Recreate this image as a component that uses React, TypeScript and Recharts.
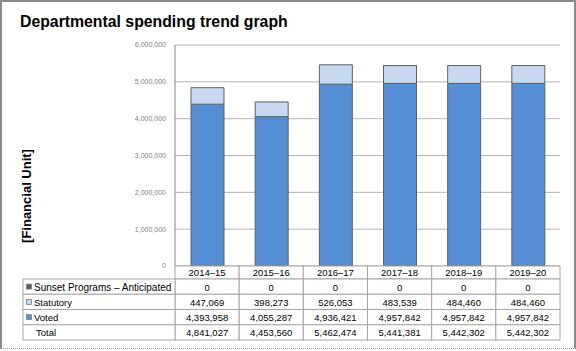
import React from 'react';
import { Bar, BarChart, CartesianGrid, XAxis, YAxis } from 'recharts';

const YEARS = ['2014–15', '2015–16', '2016–17', '2017–18', '2018–19', '2019–20'];
const SUNSET = [0, 0, 0, 0, 0, 0];
const STATUTORY = [447069, 398273, 526053, 483539, 484460, 484460];
const VOTED = [4393958, 4055287, 4936421, 4957842, 4957842, 4957842];
const Y_TICKS = [0, 1000000, 2000000, 3000000, 4000000, 5000000, 6000000];

const data = YEARS.map((year, i) => ({
  year,
  voted: VOTED[i],
  statutory: STATUTORY[i],
  sunset: SUNSET[i],
  total: VOTED[i] + STATUTORY[i] + SUNSET[i],
}));

const ROWS = [
  { key: 'sunset', label: 'Sunset Programs – Anticipated', color: '#595959' },
  { key: 'statutory', label: 'Statutory', color: '#c6d9f1' },
  { key: 'voted', label: 'Voted', color: '#558ed5' },
  { key: 'total', label: 'Total', color: null },
];

const FONT = '"Liberation Sans", Arial, sans-serif';
const PLOT_LEFT = 175;
const PLOT_WIDTH = 385;
const COL_W = PLOT_WIDTH / YEARS.length;
const HEADER_H = 13;
const ROW_H = 15.25;
const LABEL_LEFT = 23;
const BORDER = '#a6a6a6';

const fmt = (v: number) => v.toLocaleString('en-US');

// each x tick draws its own table column, the first one also the row labels
const TableColumn = (props: any) => {
  const { x, y, payload, index } = props;
  const left = x - COL_W / 2;
  const row = data[index];
  return (
    <g fontFamily={FONT} fontSize={9.5} fill="#000">
      <rect x={left} y={y} width={COL_W} height={HEADER_H} fill="#fff" stroke={BORDER} />
      <text x={x} y={y + HEADER_H / 2} textAnchor="middle" dominantBaseline="central" fill="#000">
        {payload.value}
      </text>
      {ROWS.map((r, ri) => {
        const top = y + HEADER_H + ri * ROW_H;
        return (
          <g key={r.key}>
            <rect x={left} y={top} width={COL_W} height={ROW_H} fill="#fff" stroke={BORDER} />
            <text x={x} y={top + ROW_H / 2 + 0.5} textAnchor="middle" dominantBaseline="central" fill="#000">
              {fmt((row as any)[r.key])}
            </text>
          </g>
        );
      })}
      {index === 0 &&
        ROWS.map((r, ri) => {
          const top = y + HEADER_H + ri * ROW_H;
          return (
            <g key={'l' + r.key}>
              <rect x={LABEL_LEFT} y={top} width={PLOT_LEFT - LABEL_LEFT} height={ROW_H} fill="#fff" stroke={BORDER} />
              {r.color && (
                <rect x={26.5} y={top + ROW_H / 2 - 2.5} width={5} height={5} fill={r.color} stroke="#7f7f7f" strokeWidth={0.8} />
              )}
              <text
                x={r.color ? 34 : 36}
                y={top + ROW_H / 2 + 0.5}
                dominantBaseline="central"
                fontSize={r.key === 'sunset' ? 10 : 9.5}
                fill="#000"
              >
                {r.label}
              </text>
            </g>
          );
        })}
    </g>
  );
};

const YLabel = () => (
  <text
    x={31}
    y={196}
    transform="rotate(-90 31 196)"
    textAnchor="middle"
    fontFamily={FONT}
    fontSize={13}
    fontWeight="bold"
    fill="#000"
  >
    [Financial Unit]
  </text>
);

export default function App() {
  return (
    <div style={{ position: 'relative', width: 576, height: 351, background: '#fff' }}>
      <style>{'body{margin:0}'}</style>
      <div
        style={{
          position: 'absolute',
          left: 0,
          top: 0,
          width: 572,
          height: 346,
          borderTop: '2px solid #8a8a8a',
          borderLeft: '2px solid #8a8a8a',
          borderRight: '2px solid #8a8a8a',
          borderBottom: '1px dotted #999',
        }}
      />
      <div
        style={{
          position: 'absolute',
          left: 20,
          top: 13,
          fontFamily: FONT,
          fontSize: 15.8,
          fontWeight: 'bold',
          color: '#000',
          whiteSpace: 'nowrap',
        }}
      >
        Departmental spending trend graph
      </div>
      <BarChart
        width={576}
        height={351}
        data={data}
        margin={{ top: 45, right: 16, left: 0, bottom: 0 }}
        barSize={33}
        style={{ position: 'absolute', left: 0, top: 0 }}
      >
        <CartesianGrid vertical={false} stroke="#b3b3b3" />
        <YAxis
          width={PLOT_LEFT}
          domain={[0, 6000000]}
          ticks={Y_TICKS}
          tickFormatter={fmt}
          tick={{ fontSize: 7, fill: '#808080', fontFamily: FONT }}
          tickLine={false}
          tickSize={0}
          tickMargin={9}
          axisLine={{ stroke: '#868686' }}
          label={<YLabel />}
        />
        <XAxis
          dataKey="year"
          height={85}
          interval={0}
          tickLine={false}
          tickSize={0}
          tickMargin={0}
          axisLine={false}
          tick={<TableColumn />}
        />
        <Bar dataKey="voted" stackId="a" fill="#558ed5" stroke="#5f5f5f" strokeWidth={1} isAnimationActive={false} />
        <Bar dataKey="statutory" stackId="a" fill="#c6d9f1" stroke="#5f5f5f" strokeWidth={1} isAnimationActive={false} />
        <Bar dataKey="sunset" stackId="a" fill="#595959" isAnimationActive={false} />
      </BarChart>
    </div>
  );
}
